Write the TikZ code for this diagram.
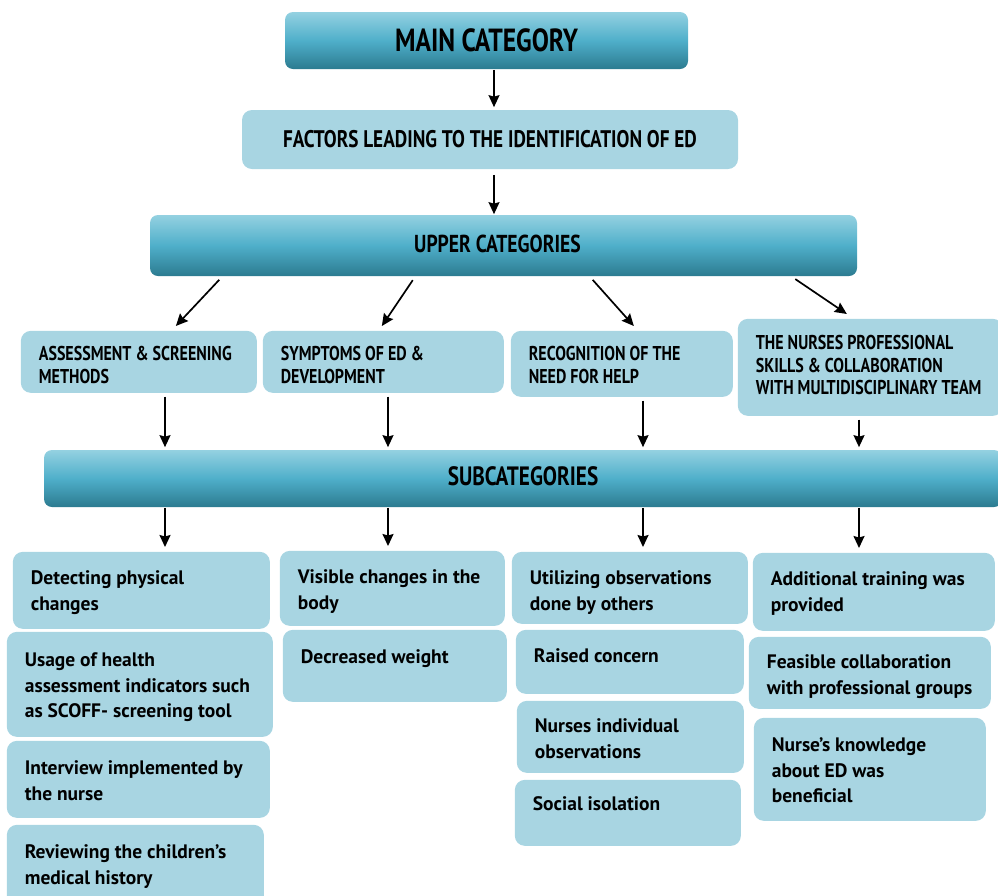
\documentclass[tikz,border=0pt]{standalone}
\usepackage{fontspec}
\setmainfont{PT Sans}
\newfontfamily\headfont{PT Sans}[FakeStretch=0.8]
\usepackage{xcolor}
\usetikzlibrary{arrows.meta}
\definecolor{boxblue}{HTML}{A8D5E2}
\definecolor{bartop}{HTML}{94D1E1}
\definecolor{barmid}{HTML}{4FAFCA}
\definecolor{barbot}{HTML}{2C7B90}
\newcommand{\cell}[4][33]{\parbox[c][#3pt][t]{#2pt}{\raggedright\leftskip=18pt\rule{0pt}{#1pt}#4}}
\tikzset{
  cat_bar/.style = {rectangle, rounded corners=8pt, top color=bartop,
    bottom color=barbot, middle color=barmid, inner sep=0pt,
    font=\headfont\bfseries},% bandeau degrade
  cat_box/.style = {rectangle, rounded corners=10pt, fill=boxblue,
    inner sep=0pt, font=\headfont\bfseries},% categorie, centre
  up_box/.style = {rectangle, rounded corners=10pt, fill=boxblue,
    inner sep=0pt, anchor=north west,
    font=\headfont\bfseries\fontsize{20}{22.5}\selectfont},% categorie haute
  sub_box/.style = {rectangle, rounded corners=10pt, fill=boxblue,
    inner sep=0pt, anchor=north west,
    font=\bfseries\fontsize{19.5}{25.5}\selectfont}% sous-categorie
}
\begin{document}
\begin{tikzpicture}[x=1pt,y=-1pt,->,>={Stealth[length=12pt,width=11pt,inset=1.5pt]},line width=1.7pt]
\useasboundingbox (0,0) rectangle (998,895);
\node [cat_bar, minimum width=403pt, minimum height=57pt,
  font=\headfont\bfseries\fontsize{32}{36}\selectfont] (main) at (486.5,40.5) {\raisebox{1pt}{MAIN CATEGORY}};
\node [cat_box, minimum width=496pt, minimum height=59pt,
  font=\headfont\bfseries\fontsize{24}{28}\selectfont] (factors) at (490,139.5)
  {\raisebox{2pt}{FACTORS LEADING TO THE IDENTIFICATION OF ED}};
\node [cat_bar, minimum width=707pt, minimum height=61pt,
  font=\headfont\bfseries\fontsize{24.5}{28}\selectfont] (upper) at (503.5,245.5)
  {\raisebox{4pt}{UPPER CATEGORIES\hspace{12pt}}};
\node [cat_bar, minimum width=958pt, minimum height=57pt,
  font=\headfont\bfseries\fontsize{26.5}{30}\selectfont] (sub) at (523,478.5) {\raisebox{4pt}{SUBCATEGORIES}};

% upper categories
\node [up_box] (asm) at (20,330) {\cell[30]{236}{62}{ASSESSMENT \& SCREENING\\METHODS}};
\node [up_box] (sym) at (262,330) {\cell[30]{241}{62}{SYMPTOMS OF ED \&\\DEVELOPMENT}};
\node [up_box] (rec) at (510,330) {\cell[30]{222}{66}{RECOGNITION OF THE\\NEED FOR HELP}};
\node [up_box] (nur) at (737,318) {\cell[31]{265}{97}{THE NURSES PROFESSIONAL\\SKILLS \& COLLABORATION\\WITH MULTIDISCIPLINARY TEAM}};

% subcategories
\node [sub_box] (phys) at (12,551) {\cell{257}{77}{Detecting physical\\changes}};
\node [sub_box] (scoff) at (6,631) {\cell[35]{266}{105}{Usage of health\\assessment indicators such\\as SCOFF- screening tool}};
\node [sub_box] (interview) at (6,740) {\cell[34]{263}{77}{Interview implemented by\\the nurse}};
\node [sub_box] (history) at (6,824) {\cell[34]{257}{90}{Reviewing the children's\\medical history}};
\node [sub_box] (visible) at (279,550) {\cell{225}{75}{Visible changes in the\\body}};
\node [sub_box] (weight) at (282,629) {\cell[34]{224}{72}{Decreased weight}};
\node [sub_box] (others) at (511,551) {\cell{236}{72}{Utilizing observations\\done by others}};
\node [sub_box] (concern) at (515,629) {\cell{228}{64}{Raised concern}};
\node [sub_box] (indiv) at (516,700) {\cell[32]{227}{72}{Nurses individual\\observations}};
\node [sub_box] (isolation) at (514,779) {\cell[31]{226}{66}{Social isolation}};
\node [sub_box] (training) at (752,552) {\cell{242}{78}{Additional training was\\provided}};
\node [sub_box] (collab) at (748,636) {\cell[32]{242}{72}{Feasible collaboration\\with professional groups}};
\node [sub_box] (knowledge) at (753,717) {\cell[34]{232}{103}{Nurse’s knowledge\\about ED was\\beneficial}};

% connectors
\coordinate (axis) at (494,0);
\draw (main.south -| axis) -- ([yshift=2pt]factors.north -| axis);
\draw [shorten <=5pt] (factors.south -| axis) -- (upper.north -| axis);
\foreach \up/\dx/\ux in {asm/-281.5/37, sym/-88.5/-1.5, rec/86.5/12, nur/288.5/-23.5}
  \draw [shorten <=4pt] ([xshift=\dx pt]upper.south) -- ([xshift=\ux pt,yshift=4pt]\up.north);
\foreach \up/\low/\col in {asm/phys/165, sym/visible/388, rec/others/643, nur/training/859}{
  \coordinate (col) at (\col,0);
  \draw [shorten <=3pt, shorten >=2pt] (\up.south -| col) -- (sub.north -| col);
  \draw [shorten >=4pt] (sub.south -| col) -- (\low.north -| col);
}
\end{tikzpicture}
\end{document}
